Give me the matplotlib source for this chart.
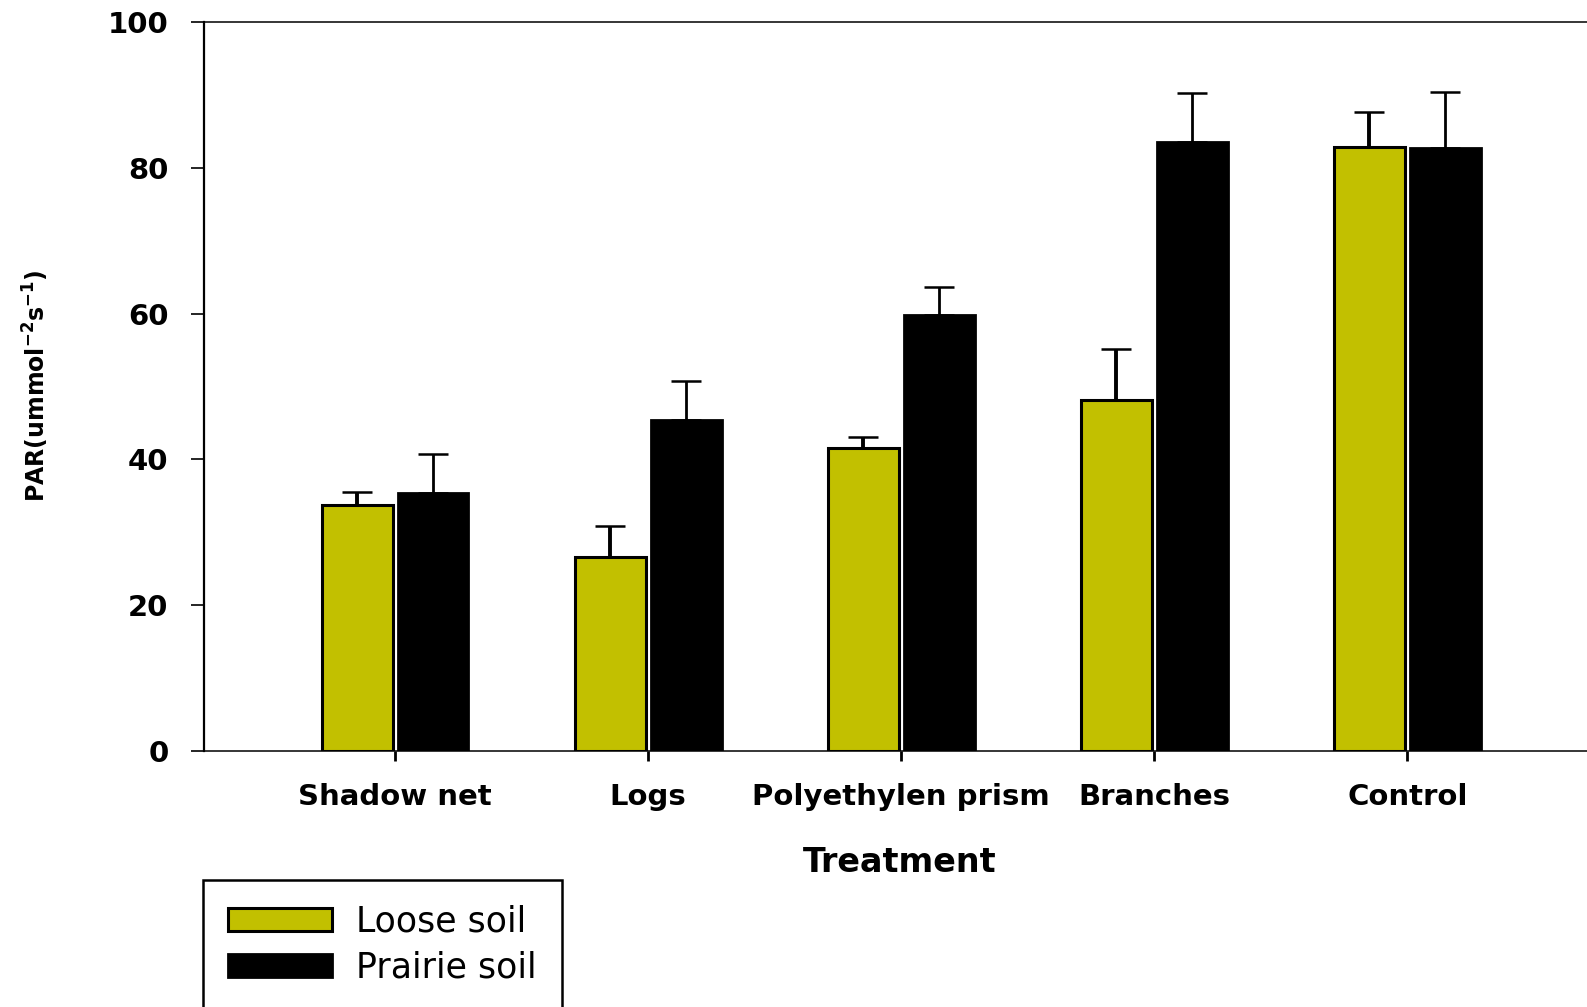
import matplotlib
matplotlib.use("Agg")
import matplotlib.pyplot as plt
import numpy as np

# PAR under each shading treatment, two soil types (mean and upper error)
treatments = ["Shadow net", "Logs", "Polyethylen prism", "Branches", "Control"]
loose_mean = [33.7, 26.6, 41.6, 48.1, 82.9]
loose_err = [1.8, 4.2, 1.5, 7.0, 4.8]
prairie_mean = [35.4, 45.4, 59.8, 83.6, 82.7]
prairie_err = [5.4, 5.4, 3.9, 6.6, 7.7]
series_labels = ["Loose soil", "Prairie soil"]
y_ticks = [0, 20, 40, 60, 80, 100]

W, H = 1587, 1007
fig = plt.figure(figsize=(W / 100, H / 100), dpi=100)
ax = fig.add_axes([204 / W, 1 - 751 / H, 1 - 204 / W, (751 - 22) / H])

x = np.arange(len(treatments))
bw = 0.28
off = 0.15
yellow = "#c2c000"

b1 = ax.bar(x - off, loose_mean, bw, color=yellow, edgecolor="black",
            linewidth=2.2, label=series_labels[0], zorder=3)
b2 = ax.bar(x + off, prairie_mean, bw, color="black", edgecolor="black",
            linewidth=2, label=series_labels[1], zorder=3)

zeros = np.zeros(len(treatments))
ax.errorbar(x - off, loose_mean, yerr=[zeros, loose_err], fmt="none",
            ecolor="black", elinewidth=2.8, capsize=11, capthick=1.8, zorder=2)
ax.errorbar(x + off, prairie_mean, yerr=[zeros, prairie_err], fmt="none",
            ecolor="black", elinewidth=2.0, capsize=11, capthick=1.8, zorder=2)

ax.set_xlim(-0.755, 4.71)
ax.set_ylim(0, 100)
ax.set_yticks(y_ticks)
ax.set_yticklabels([str(v) for v in y_ticks])
ax.set_xticks(x)
ax.set_xticklabels(treatments)

for lab in ax.get_xticklabels() + ax.get_yticklabels():
    lab.set_fontfamily("DejaVu Sans")
    lab.set_fontweight("bold")
    lab.set_fontsize(21)

ax.tick_params(axis="y", direction="out", length=9.5, width=1.2, pad=16)
ax.tick_params(axis="x", direction="out", length=7, width=2, pad=16)

ax.spines["right"].set_visible(False)
ax.spines["left"].set_linewidth(1.6)
ax.spines["top"].set_linewidth(1.1)
ax.spines["bottom"].set_linewidth(1.1)

fig.text(900 / W, 1 - 863 / H, "Treatment", ha="center", va="center",
         fontsize=24, fontweight="bold", family="DejaVu Sans")

fig.text(36 / W, 1 - 386 / H, r"PAR(ummol$^{\mathbf{-2}}$s$^{\mathbf{-1}}$)",
         rotation=90, ha="center", va="center", fontsize=17,
         fontweight="bold", family=["Liberation Sans Narrow", "DejaVu Sans"])

leg = ax.legend(handles=[b1, b2], loc="upper left",
                bbox_to_anchor=(203 / W, 1 - 880 / H),
                bbox_transform=fig.transFigure, fontsize=25,
                frameon=True, fancybox=False, shadow=False, framealpha=1,
                handlelength=3.0, handleheight=0.63, handletextpad=0.7,
                borderpad=0.72, labelspacing=0.33, borderaxespad=0)
leg.get_frame().set_edgecolor("black")
leg.get_frame().set_linewidth(1.8)
for t in leg.get_texts():
    t.set_family("DejaVu Sans")

fig.savefig("out.png", dpi=100)
